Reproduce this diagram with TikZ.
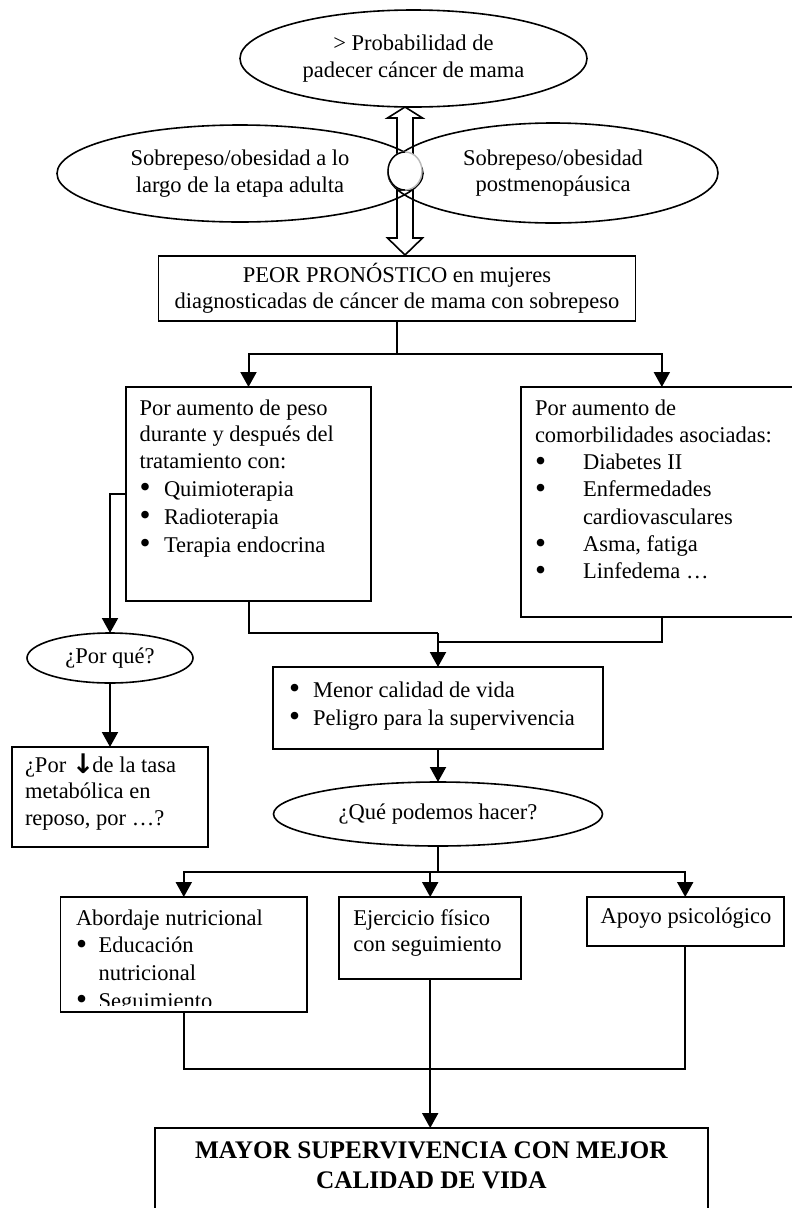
\documentclass[tikz,border=0pt]{standalone}
\usepackage{fontspec}
\usepackage{graphicx}
\setmainfont{Liberation Serif}
\newfontfamily\dejavu{DejaVu Sans}
\usetikzlibrary{arrows.meta,shapes.geometric,calc}
\newcommand\bul{\smash{\raisebox{-1.6pt}{\scalebox{1.4}{\textbullet}}}}
\begin{document}
\begin{tikzpicture}[x=1pt,y=-1pt,
  every node/.style={font=\fontsize{22.5pt}{26.5pt}\selectfont, inner sep=0pt, outer sep=0pt},
  oval/.style={draw, ellipse, line width=1.6pt, align=center},
  boxn/.style={draw, rectangle, line width=1.8pt},
  txt/.style={anchor=base west, align=left},
  conn/.style={line width=2pt},
  arr/.style={conn, -{Triangle[length=15pt,width=16pt]}},
  fat/.style={line width=1.6pt, line join=miter}
]
\useasboundingbox (0,0) rectangle (792,1208);
\clip (0,0) rectangle (792,1208);
\fill[white] (0,0) rectangle (792,1208);

% top ellipses
\node[oval, minimum width=347pt, minimum height=97pt] (top) at (413.5,58.5) {> Probabilidad de\\padecer cáncer de mama};
\node[oval, minimum width=366pt, minimum height=97pt] (lft) at (240,173.5) {Sobrepeso/obesidad a lo\\largo de la etapa adulta};
\node[oval, minimum width=330pt, minimum height=100pt] (rgt) at (553,173) {Sobrepeso/obesidad\\postmenopáusica};

% double arrow through ring
\coordinate (rc) at (405,171);
\draw[fat] ($(rc)+(-8,-17)$) -- ($(rc)+(-8,-53)$) -- ($(rc)+(-17.5,-53)$) -- ($(rc)+(0,-64)$) -- ($(rc)+(17.5,-53)$) -- ($(rc)+(8,-53)$) -- ($(rc)+(8,-17)$);
\draw[fat] ($(rc)+(-8,19)$) -- ($(rc)+(-8,67)$) -- ($(rc)+(-17.5,67)$) -- ($(rc)+(0,84)$) -- ($(rc)+(17.5,67)$) -- ($(rc)+(8,67)$) -- ($(rc)+(8,19)$) -- cycle;
\node[ellipse, fill=white, draw=gray!55, line width=1.4pt, minimum width=34pt, minimum height=38pt] (ring) at (rc) {};
\begin{scope}
  \clip ($(rc)+(-25,-25)$) rectangle ($(rc)+(0,25)$);
  \draw[black, line width=1.4pt] (rc) ellipse[x radius=17, y radius=19];
\end{scope}

% main box
\node[boxn, minimum width=477pt, minimum height=65pt, align=center] (peor) at (397,288.5) {PEOR PRONÓSTICO en mujeres\\diagnosticadas de cáncer de mama con sobrepeso};

% left box
\node[boxn, minimum width=245pt, minimum height=214pt] (lbox) at (248.5,494) {};
\node[txt] (lboxt) at (139.5,415) {\begin{tabular}[t]{@{}l@{}}Por aumento de peso\\durante y después del\\tratamiento con:\\[1.5pt]
\makebox[24.5pt][l]{\bul}Quimioterapia\\[1.5pt]
\makebox[24.5pt][l]{\bul}Radioterapia\\[1.5pt]
\makebox[24.5pt][l]{\bul}Terapia endocrina\end{tabular}};

% right box
\node[boxn, minimum width=282.3pt, minimum height=230pt] (rbox) at (661.85,502) {};
\node[txt] (rboxt) at (535,415) {\begin{tabular}[t]{@{}l@{}}Por aumento de\\[0.8pt]comorbilidades asociadas:\\[0.8pt]
\makebox[48pt][l]{\bul}Diabetes II\\[0.8pt]
\makebox[48pt][l]{\bul}Enfermedades\\[0.8pt]
\hspace*{48pt}cardiovasculares\\[0.8pt]
\makebox[48pt][l]{\bul}Asma, fatiga\\[0.8pt]
\makebox[48pt][l]{\bul}Linfedema …\end{tabular}};

% por que
\node[oval, minimum width=166pt, minimum height=50pt] (porque) at (110,658) {¿Por qué?};
\node[boxn, minimum width=196pt, minimum height=100pt] (tasa) at (110,797) {};
\node[txt] (tasat) at (25,772) {\begin{tabular}[t]{@{}l@{}}¿Por {\dejavu\bfseries\fontsize{27pt}{26.5pt}\selectfont\raisebox{-1pt}{↓}}\hspace{-2pt}de la tasa\\metabólica en\\reposo, por …?\end{tabular}};

% menor calidad
\node[boxn, minimum width=330pt, minimum height=82pt] (menor) at (438,708) {};
\node[txt] (menort) at (289,697) {\begin{tabular}[t]{@{}l@{}}\makebox[24pt][l]{\bul}Menor calidad de vida\\[1.5pt]
\makebox[24pt][l]{\bul}Peligro para la supervivencia\end{tabular}};

\node[oval, minimum width=329pt, minimum height=64pt] (que) at (438,814) {¿Qué podemos hacer?};

% three boxes
\node[boxn, minimum width=246.8pt, minimum height=115pt] (abord) at (183.8,954.5) {};
\begin{scope}
  \clip (60,897) rectangle (308,1005.5);
  \node[txt] (abordt) at (76,925) {\begin{tabular}[t]{@{}l@{}}Abordaje nutricional\\[1.2pt]
  \makebox[22.6pt][l]{\bul}Educación\\[1.2pt]
  \hspace*{22.6pt}nutricional\\[1.2pt]
  \makebox[22.6pt][l]{\bul}Seguimiento\end{tabular}};
\end{scope}
\node[boxn, minimum width=181.7pt, minimum height=82pt] (ejer) at (430.2,938) {};
\node[txt] (ejert) at (353.4,925) {\begin{tabular}[t]{@{}l@{}}Ejercicio físico\\con seguimiento\end{tabular}};
\node[boxn, minimum width=197.2pt, minimum height=49pt] (apoyo) at (685.2,921.5) {};
\node[txt] (apoyot) at (600.7,923) {Apoyo psicológico};

% final box
\node[boxn, minimum width=552.7pt, minimum height=110pt] (fin) at (431.3,1183) {};
\node[anchor=base, font=\fontsize{25.3pt}{30pt}\selectfont\bfseries] (fint) at (431.3,1158) {\begin{tabular}[t]{@{}c@{}}MAYOR SUPERVIVENCIA CON MEJOR\\CALIDAD DE VIDA\end{tabular}};

% connectors
\draw[arr] (peor.south) -- ++(0,33) -| (lbox.north);
\draw[arr] (peor.south) -- ++(0,33) -| (rbox.north);
\draw[arr] (lbox.west) -| (porque.north);
\draw[arr] (porque.south) -- (tasa.north);
\coordinate (j1) at (438,633);
\coordinate (j2) at (438,642);
\draw[conn] (lbox.south) |- (j1);
\draw[conn] (rbox.south) |- (j2);
\draw[arr] (j1) -- (menor.north);
\draw[arr] (menor.south) -- (que.north);
\coordinate (j4) at (438,872);
\draw[conn] (que.south) -- (j4);
\draw[arr] (j4) -| (abord.north);
\draw[arr] (j4) -| (ejer.north);
\draw[arr] (j4) -| (apoyo.north);
\coordinate (j3) at (430.2,1069);
\draw[conn] (abord.south) |- (j3);
\draw[conn] (apoyo.south) |- (j3);
\draw[arr] (ejer.south) -- (ejer.south |- fin.north);
\end{tikzpicture}
\end{document}
